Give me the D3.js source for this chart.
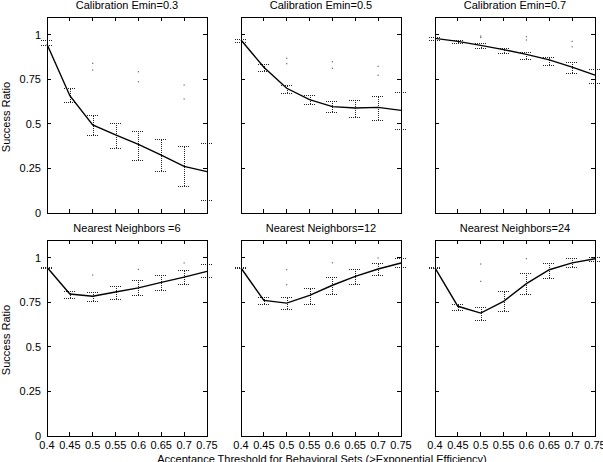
<!DOCTYPE html>
<html>
<head>
<meta charset="utf-8">
<script src="https://cdn.jsdelivr.net/npm/d3@7"></script>
<style>
  body { margin: 0; background: #fff; }
  svg { display: block; font-family: "Liberation Sans", Arial, sans-serif; }
  .frame { fill: none; stroke: #000; stroke-width: 1; shape-rendering: crispEdges; }
  .tick { stroke: #000; stroke-width: 1; shape-rendering: crispEdges; }
  .mean { fill: none; stroke: #000; stroke-width: 1.4; }
  .err { stroke: #222; stroke-width: 1; stroke-dasharray: 1,1; shape-rendering: crispEdges; }
  text { font-size: 11px; fill: #000; }
</style>
</head>
<body>
<svg width="603" height="462"></svg>
<script>
const thresholds = [0.4, 0.45, 0.5, 0.55, 0.6, 0.65, 0.7, 0.75];
const yTicks = [0, 0.25, 0.5, 0.75, 1];
const yTickLabels = ['0', '0.25', '0.5', '0.75', '1'];
const xTickLabels = ['0.4', '0.45', '0.5', '0.55', '0.6', '0.65', '0.7', '0.75'];

const titles = [
  'Calibration Emin=0.3', 'Calibration Emin=0.5', 'Calibration Emin=0.7',
  'Nearest Neighbors =6', 'Nearest Neighbors=12', 'Nearest Neighbors=24'
];

// mean success ratio per panel
const meanValues = [
  [0.947, 0.658, 0.494, 0.438, 0.385, 0.325, 0.262, 0.232],
  [0.971, 0.818, 0.700, 0.636, 0.597, 0.589, 0.593, 0.576],
  [0.980, 0.963, 0.941, 0.917, 0.890, 0.859, 0.819, 0.774],
  [0.947, 0.797, 0.784, 0.808, 0.831, 0.862, 0.892, 0.924],
  [0.943, 0.761, 0.746, 0.789, 0.846, 0.896, 0.937, 0.971],
  [0.943, 0.728, 0.690, 0.756, 0.855, 0.933, 0.972, 0.995]
];
const lowValues = [
  [0.943, 0.623, 0.438, 0.365, 0.300, 0.238, 0.150, 0.071],
  [0.962, 0.797, 0.672, 0.610, 0.565, 0.537, 0.524, 0.470],
  [0.973, 0.954, 0.924, 0.898, 0.864, 0.832, 0.786, 0.730],
  [0.945, 0.774, 0.758, 0.770, 0.791, 0.817, 0.855, 0.891],
  [0.941, 0.742, 0.714, 0.742, 0.797, 0.851, 0.902, 0.948],
  [0.941, 0.709, 0.651, 0.700, 0.797, 0.887, 0.947, 0.984]
];
const highValues = [
  [0.971, 0.703, 0.550, 0.507, 0.462, 0.413, 0.374, 0.391],
  [0.975, 0.836, 0.718, 0.662, 0.629, 0.636, 0.658, 0.679],
  [0.989, 0.971, 0.952, 0.928, 0.902, 0.875, 0.846, 0.810],
  [0.950, 0.814, 0.810, 0.840, 0.874, 0.905, 0.930, 0.965],
  [0.946, 0.780, 0.778, 0.832, 0.892, 0.939, 0.972, 0.999],
  [0.946, 0.741, 0.726, 0.815, 0.913, 0.972, 0.999, 1.004]
];
// stray points [threshold, ratio]
const strayPoints = [
  [[0.5, 0.840], [0.5, 0.802], [0.6, 0.793], [0.6, 0.737], [0.7, 0.718], [0.7, 0.640]],
  [[0.5, 0.868], [0.5, 0.838], [0.6, 0.849], [0.6, 0.812], [0.7, 0.823], [0.7, 0.773]],
  [[0.5, 0.993], [0.5, 0.985], [0.6, 0.989], [0.6, 0.971], [0.7, 0.963], [0.7, 0.933]],
  [[0.5, 0.903], [0.6, 0.935], [0.7, 0.971]],
  [[0.5, 0.933], [0.5, 0.849], [0.6, 0.972], [0.7, 0.999]],
  [[0.5, 0.965], [0.5, 0.868], [0.6, 0.995]]
];

const svg = d3.select('svg');
const colLeft = [47, 241, 435];
const rowTop = [17, 240];
const pw = 160;
const ph = 196;
const tickLen = 4;
const capHalf = 6;

const x = d3.scaleLinear().domain([0.4, 0.75]).range([0, pw]);
const y = d3.scaleLinear().domain([0, 1.1]).range([ph, 0]);

const line = d3.line()
    .x(function(d) { return x(d[0]); })
    .y(function(d) { return y(d[1]); });

titles.forEach(function(title, i) {
  const col = i % 3;
  const row = Math.floor(i / 3);
  const g = svg.append('g')
      .attr('transform', `translate(${colLeft[col]}, ${rowTop[row]})`);

  g.append('text')
      .attr('x', pw / 2)
      .attr('y', -8.5)
      .attr('text-anchor', 'middle')
      .text(title);

  // ticks on all four sides, pointing inward
  thresholds.forEach(function(t) {
    g.append('line').attr('class', 'tick')
        .attr('x1', x(t)).attr('x2', x(t)).attr('y1', ph).attr('y2', ph - tickLen);
    g.append('line').attr('class', 'tick')
        .attr('x1', x(t)).attr('x2', x(t)).attr('y1', 0).attr('y2', tickLen);
  });
  yTicks.forEach(function(t) {
    g.append('line').attr('class', 'tick')
        .attr('x1', 0).attr('x2', tickLen).attr('y1', y(t)).attr('y2', y(t));
    g.append('line').attr('class', 'tick')
        .attr('x1', pw).attr('x2', pw - tickLen).attr('y1', y(t)).attr('y2', y(t));
  });

  if (col === 0) {
    yTicks.forEach(function(t, k) {
      g.append('text')
          .attr('x', -6)
          .attr('y', y(t) + 4)
          .attr('text-anchor', 'end')
          .text(yTickLabels[k]);
    });
    g.append('text')
        .attr('transform', `translate(${-37}, ${ph / 2 + 2}) rotate(-90)`)
        .attr('text-anchor', 'middle')
        .text('Success Ratio');
  }
  if (row === 1) {
    thresholds.forEach(function(t, k) {
      g.append('text')
          .attr('x', x(t))
          .attr('y', ph + 13)
          .attr('text-anchor', 'middle')
          .text(xTickLabels[k]);
    });
  }

  // error bars
  const bars = g.selectAll('.bar')
      .data(thresholds.map(function(t, k) { return [t, lowValues[i][k], highValues[i][k]]; }))
      .enter().append('g')
      .attr('class', 'bar');
  bars.append('line').attr('class', 'err')
      .attr('x1', function(d) { return Math.round(x(d[0])) + 0.5; })
      .attr('x2', function(d) { return Math.round(x(d[0])) + 0.5; })
      .attr('y1', function(d) { return y(d[1]); })
      .attr('y2', function(d) { return y(d[2]); });
  bars.append('line').attr('class', 'err')
      .attr('x1', function(d) { return x(d[0]) - capHalf; })
      .attr('x2', function(d) { return x(d[0]) + capHalf; })
      .attr('y1', function(d) { return Math.round(y(d[1])) + 0.5; })
      .attr('y2', function(d) { return Math.round(y(d[1])) + 0.5; });
  bars.append('line').attr('class', 'err')
      .attr('x1', function(d) { return x(d[0]) - capHalf; })
      .attr('x2', function(d) { return x(d[0]) + capHalf; })
      .attr('y1', function(d) { return Math.round(y(d[2])) + 0.5; })
      .attr('y2', function(d) { return Math.round(y(d[2])) + 0.5; });

  g.selectAll('.stray')
      .data(strayPoints[i])
      .enter().append('rect')
      .attr('class', 'stray')
      .attr('x', function(d) { return x(d[0]) - 0.6; })
      .attr('y', function(d) { return y(d[1]) - 0.6; })
      .attr('width', 1.2)
      .attr('height', 1.2)
      .attr('fill', '#666');

  g.append('path')
      .datum(thresholds.map(function(t, k) { return [t, meanValues[i][k]]; }))
      .attr('class', 'mean')
      .attr('d', line);

  g.append('rect')
      .attr('class', 'frame')
      .attr('x', 0.5)
      .attr('y', 0.5)
      .attr('width', pw)
      .attr('height', ph);
});

svg.append('text')
    .attr('x', 322)
    .attr('y', 463)
    .attr('text-anchor', 'middle')
    .text('Acceptance Threshold for Behavioral Sets (>Exponential Efficiency)');
</script>
</body>
</html>
